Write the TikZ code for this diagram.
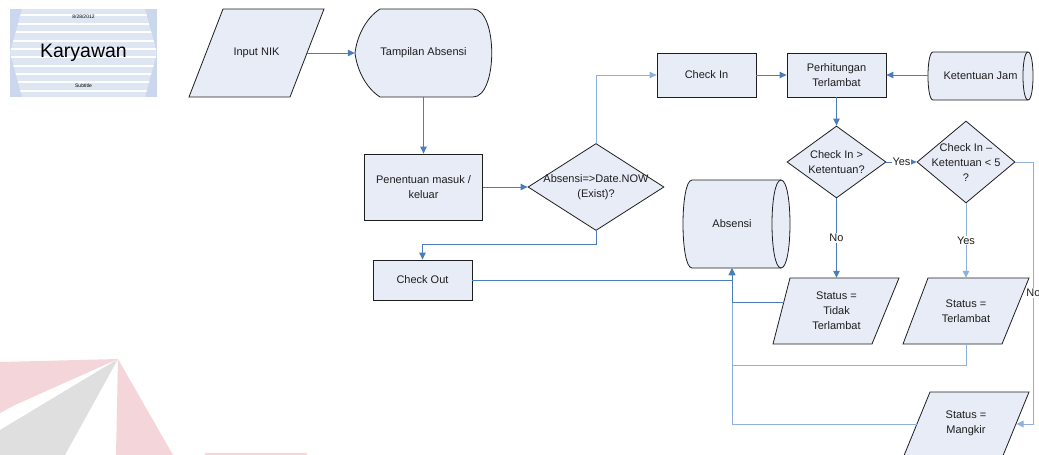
\documentclass[tikz,border=0pt]{standalone}
\usepackage{fontspec}
\setmainfont{Liberation Sans}
\usetikzlibrary{arrows.meta,shapes.geometric,calc}

\definecolor{shapefill}{HTML}{E7ECF6}
\definecolor{outline}{HTML}{1E1E1E}
\definecolor{flow}{HTML}{4A7EBB}
\definecolor{flowsoft}{HTML}{8DB0DC}
\definecolor{coverside}{HTML}{CBD7EC}
\definecolor{coverface}{HTML}{DEE5F3}
\definecolor{markred}{HTML}{F3D5DA}
\definecolor{markgray}{HTML}{DFDFDF}

\newcommand{\flowfont}{\fontsize{11}{15}\selectfont}

\begin{document}
\begin{tikzpicture}[x=1pt,y=-1pt,
  shapeline/.style={draw=outline,line width=0.8pt,fill=shapefill},
  procbox/.style={shapeline,rectangle,inner sep=0pt,align=center,font=\flowfont,text=outline},
  txt/.style={inner sep=0pt,align=center,font=\flowfont,text=outline},
  decision/.style={shapeline,diamond,inner sep=0pt},
  flowline/.style={draw=flow,line width=1pt},
  flowarrow/.style={flowline,-{Triangle[length=7pt,width=6.5pt]}},
  soft/.style={draw=flowsoft},
  onlabel/.style={fill=white,inner sep=0.8pt,font=\flowfont,text=outline},
]
\useasboundingbox (0,0) rectangle (1039,455);
\clip (0,0) rectangle (1039,455);

% faint logo in the lower left corner
\fill[markred] (0,362) -- (118,359) -- (15,405) -- (0,413) -- cycle;
\fill[markgray] (0,430) -- (118,359) -- (65,455) -- (0,455) -- cycle;
\fill[markred] (118,359) -- (173,455) -- (116,455) -- cycle;
\fill[markred] (205,453) rectangle (307,455);

% title card
\fill[coverside] (10,9) rectangle (157,97);
\begin{scope}
  \fill[coverface] (22,9) -- (145,9) -- (157,53) -- (145,97) -- (22,97) -- (10,53) -- cycle;
  \clip (22,9) -- (145,9) -- (157,53) -- (145,97) -- (22,97) -- (10,53) -- cycle;
  \foreach \yy in {15,24,32,41,49,57,66,74,82,91}
    \fill[white] (0,\yy-1) rectangle (170,\yy+1);
\end{scope}
\node[inner sep=0pt,font=\fontsize{5}{6}\selectfont] (kdate) at (83.5,17) {8/28/2012};
\node[inner sep=0pt,font=\fontsize{19.5}{22}\selectfont] (ktitle) at (83.5,53) {Karyawan};
\node[inner sep=0pt,font=\fontsize{5}{6}\selectfont] (ksub) at (83.5,86) {Subtitle};

% input NIK
\draw[shapeline] (223,9) -- (324,9) -- (290,97) -- (189,97) -- cycle;
\node[txt,minimum width=101pt,minimum height=88pt] (inp) at (256.5,53) {Input NIK};

% display: Tampilan Absensi
\draw[shapeline] (380,9) -- (473,9) .. controls (498,9) and (498,97) .. (473,97)
  -- (380,97) .. controls (366,88) and (357,70) .. (355,53)
  .. controls (357,36) and (366,18) .. (380,9) -- cycle;
\node[txt,minimum width=137pt,minimum height=88pt] (tam) at (423.5,53) {Tampilan Absensi};

% process boxes
\node[procbox,minimum width=118pt,minimum height=66pt] (pen) at (423.5,187) {Penentuan masuk /\\keluar};
\node[procbox,minimum width=99pt,minimum height=40pt] (out) at (422.5,280) {Check Out};
\node[procbox,minimum width=99pt,minimum height=44pt] (chk) at (706.5,75) {Check In};
\node[procbox,minimum width=99pt,minimum height=44pt] (per) at (836.5,75) {Perhitungan\\Terlambat};

% decisions
\node[decision,minimum width=136pt,minimum height=87pt] (d0) at (596,187) {};
\node[txt] (d0t) at (d0) {Absensi=>Date.NOW\\(Exist)?};
\node[decision,minimum width=99pt,minimum height=72pt] (d1) at (836.5,162) {};
\node[txt] (d1t) at (d1) {Check In >\\Ketentuan?};
\node[decision,minimum width=98pt,minimum height=82pt] (d2) at (966,162) {};
\node[txt] (d2t) at (966,162.5) {Check In –\\Ketentuan < 5\\?};

% stored data: Ketentuan Jam
\draw[shapeline] (933,52) -- (1028,52) .. controls (1034.7,52) and (1034.7,100) .. (1028,100)
  -- (933,100) .. controls (926.3,100) and (926.3,52) .. (933,52) -- cycle;
\draw[draw=outline,line width=0.8pt] (1028,52) .. controls (1021.3,52) and (1021.3,100) .. (1028,100);
\node[txt,minimum width=105pt,minimum height=48pt] (kj) at (980.5,76) {Ketentuan Jam};

% stored data: Absensi
\draw[shapeline] (692,180) -- (781,180) .. controls (793,180) and (793,268) .. (781,268)
  -- (692,268) .. controls (680,268) and (680,180) .. (692,180) -- cycle;
\draw[draw=outline,line width=0.8pt] (781,180) .. controls (769,180) and (769,268) .. (781,268);
\node[txt,minimum width=98pt,minimum height=88pt] (abs) at (732,224) {Absensi};

% status outputs
\draw[shapeline] (790,278) -- (899,278) -- (872,344) -- (773,344) -- cycle;
\node[txt,minimum width=99pt,minimum height=66pt] (tdk) at (836.5,311) {Status =\\Tidak\\Terlambat};
\draw[shapeline] (928,278) -- (1029,278) -- (1002,344) -- (903,344) -- cycle;
\node[txt,minimum width=99pt,minimum height=66pt] (trl) at (966,311) {Status =\\Terlambat};
\draw[shapeline] (930,392) -- (1029,392) -- (1002,458) -- (903,458) -- cycle;
\node[txt,minimum width=99pt,minimum height=66pt] (mkr) at (966,423.5) {Status =\\Mangkir};

% attach points on slanted sides
\coordinate (tdkin) at (784,302);
\coordinate (mkin) at (1016.5,424);
\coordinate (mkout) at (917,424);

% connectors
\draw[flowarrow] (inp.east) -- (tam.west);
\draw[flowarrow] (tam.south) -- (pen.north);
\draw[flowarrow] (pen.east) -- (d0.west);
\draw[flowarrow,soft] (d0.north) |- (chk.west);
\draw[flowarrow] (d0.south) -- ++(0,14) -| (out.north);
\draw[flowarrow] (chk.east) -- (per.west);
\draw[flowarrow] (kj.west |- per.east) -- (per.east);
\draw[flowarrow] (per.south) -- (d1.north);
\draw[flowarrow] (d1.east) -- node[onlabel] {Yes} (d2.west);
\draw[flowarrow] (d1.south) -- node[onlabel] {No} (tdk.north);
\draw[flowarrow,soft] (d2.south) -- node[onlabel] {Yes} (trl.north);
\draw[flowarrow,soft] (d2.east) -- ++(18,0) coordinate (noturn)
  -- (noturn |- mkin) node[onlabel,midway] {No} -- (mkin);

% everything feeds the Absensi store
\draw[flowarrow,soft] (mkout) -| (abs.south);
\draw[flowarrow,soft] (trl.south) -- ++(0,21) -| (abs.south);
\draw[flowarrow] (tdkin) -| (abs.south);
\draw[flowarrow] (out.east) -| (abs.south);
\end{tikzpicture}
\end{document}
